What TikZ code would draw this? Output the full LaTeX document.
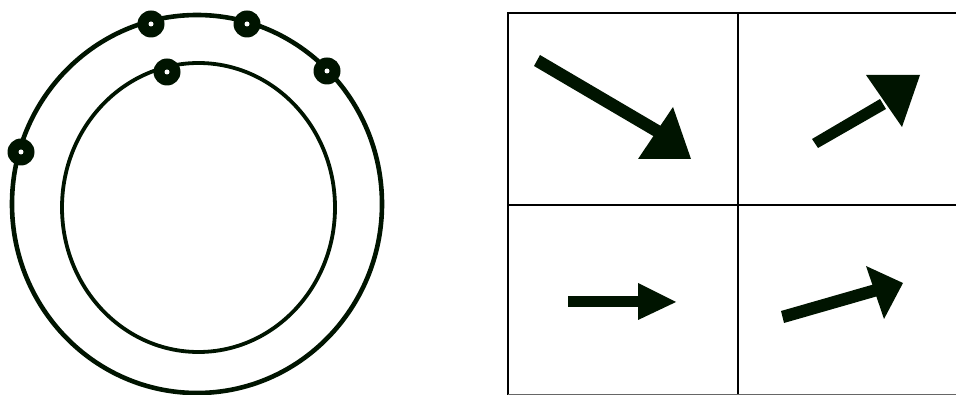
\documentclass[tikz,border=0pt]{standalone}
\begin{document}
\begin{tikzpicture}[x=1pt,y=-1pt,
  ring/.style={draw=black!92!green, line width=#1},
  dotmark/.style={circle, fill=black!92!green, minimum size=27pt, inner sep=0pt},
  hole/.style={circle, fill=white, minimum size=5pt, inner sep=0pt},
  gridline/.style={draw=black, line width=2.8pt},
  arrowshape/.style={fill=black!92!green}]
\useasboundingbox (0,0) rectangle (956,395);
% circles
\draw[ring=4.6pt] (197,204) ellipse [x radius=185, y radius=189];
\draw[ring=3.8pt] (198.5,207.5) ellipse [x radius=136.5, y radius=144.5];
% dots
\foreach \n/\x/\y in {a/151/24, b/247/24, c/327/71, d/21/152, e/167/72} {
  \node[dotmark] (\n) at (\x,\y) {};
  \node[hole] at (\n) {};
}
% grid
\draw[gridline] (508,395) -- (508,13) -- (956,13);
\draw[gridline] (738,13) -- (738,395);
\draw[gridline] (508,205) -- (956,205);
\draw[draw=black!60, line width=1.5pt] (508,394.5) -- (956,394.5);
% arrow 1
\fill[arrowshape] (540,55) -- (666,129) -- (660,140) -- (534,66) -- cycle;
\fill[arrowshape] (638,159) -- (691,159) -- (673,107) -- cycle;
% arrow 2
\fill[arrowshape] (812,139) -- (880,99) -- (886,109) -- (818,148) -- cycle;
\fill[arrowshape] (866,75) -- (920,75) -- (902,127) -- cycle;
% arrow 3
\fill[arrowshape] (568,296.5) rectangle (640,307.5);
\fill[arrowshape] (638,283) -- (638,320) -- (676,302) -- cycle;
% arrow 4
\fill[arrowshape] (781,311) -- (875,284) -- (878,296) -- (784,323) -- cycle;
\fill[arrowshape] (866,266) -- (884,319) -- (903,283) -- cycle;
\end{tikzpicture}
\end{document}
